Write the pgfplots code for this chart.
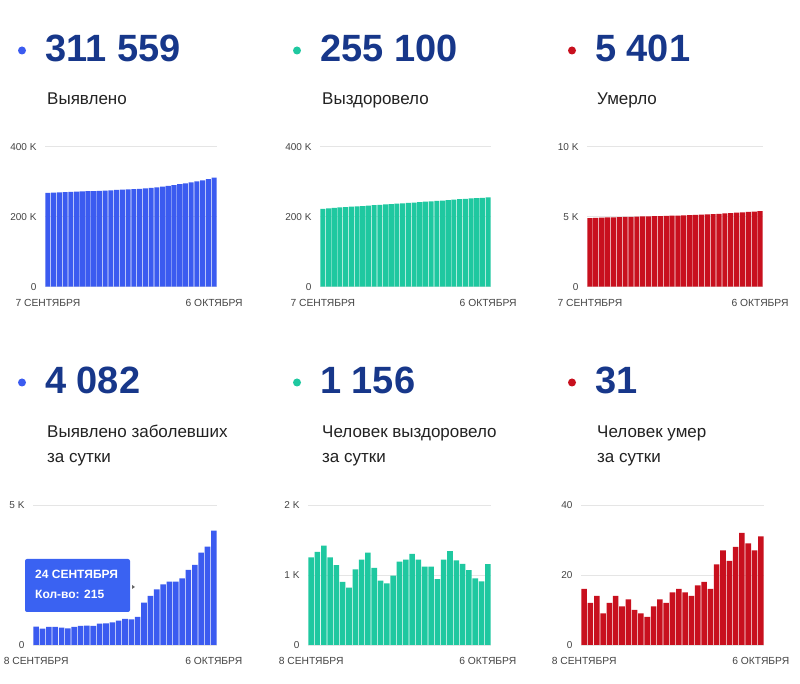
\documentclass[border=0pt]{standalone}
\usepackage{pgfplots}
\pgfplotsset{compat=1.18}
\usepackage{fontspec}
\setmainfont{Liberation Sans}
\definecolor{cblue}{HTML}{3B5BF0}
\definecolor{ctip}{HTML}{3A62F2}
\definecolor{cteal}{HTML}{1FC8A0}
\definecolor{cred}{HTML}{C8101E}
\definecolor{cnavy}{HTML}{17378A}
\definecolor{ctext}{HTML}{222222}
\definecolor{ctick}{HTML}{444444}
\pgfplotsset{
  panel/.style={
    scale only axis, ybar, bar width=0.88, height=140pt,
    ymin=0, axis line style={draw=none}, major tick length=0pt,
    ymajorgrids, major grid style={black!10, line width=0.6pt},
    scaled y ticks=false,
    /pgf/number format/assume math mode=true,
    tick label style={font=\fontsize{10}{11}\selectfont, text=ctick},
    xticklabel style={yshift=-9pt, font=\fontsize{10.3}{11}\selectfont},
    yticklabel style={xshift=-5pt},
    clip=false,
  },
  top/.style={panel, xmin=-0.5, xmax=29.5, xtick={0,29}, xticklabels={7 СЕНТЯБРЯ, 6 ОКТЯБРЯ}},
  bot/.style={panel, xmin=-0.5, xmax=28.5, xtick={0,28}, xticklabels={8 СЕНТЯБРЯ, 6 ОКТЯБРЯ}},
}
\begin{document}
\begin{tikzpicture}[x=1pt,y=1pt]
\useasboundingbox (0,0) rectangle (800,684);
\fill[white] (0,0) rectangle (800,684);

% ---------- headers ----------
\newcommand\hdr[5]{%
  \fill[#1] (#2-23,#3+11.5) circle (4);
  \node[anchor=base west, inner sep=0, text=cnavy, font=\fontsize{38}{40}\selectfont\bfseries] at (#2,#3) {#4};
  \node[anchor=base west, inner sep=0, text=ctext, font=\fontsize{17}{24}\selectfont, align=left] at (#2+2,#3-43) {#5};
}
\hdr{cblue}{45}{622}{311 559}{Выявлено}
\hdr{cteal}{320}{622}{255 100}{Выздоровело}
\hdr{cred}{595}{622}{5 401}{Умерло}
\fill[cblue] (22,301.5) circle (4);
\fill[cteal] (297,301.5) circle (4);
\fill[cred] (572,301.5) circle (4);
\node[anchor=base west, inner sep=0, text=cnavy, font=\fontsize{38}{40}\selectfont\bfseries] at (45,290) {4 082};
\node[anchor=base west, inner sep=0, text=cnavy, font=\fontsize{38}{40}\selectfont\bfseries] at (320,290) {1 156};
\node[anchor=base west, inner sep=0, text=cnavy, font=\fontsize{38}{40}\selectfont\bfseries] at (595,290) {31};
\node[anchor=base west, inner sep=0, text=ctext, font=\fontsize{17}{24}\selectfont] at (47,246) {Выявлено заболевших};
\node[anchor=base west, inner sep=0, text=ctext, font=\fontsize{17}{24}\selectfont] at (47,221) {за сутки};
\node[anchor=base west, inner sep=0, text=ctext, font=\fontsize{17}{24}\selectfont] at (322,246) {Человек выздоровело};
\node[anchor=base west, inner sep=0, text=ctext, font=\fontsize{17}{24}\selectfont] at (322,221) {за сутки};
\node[anchor=base west, inner sep=0, text=ctext, font=\fontsize{17}{24}\selectfont] at (597,246) {Человек умер};
\node[anchor=base west, inner sep=0, text=ctext, font=\fontsize{17}{24}\selectfont] at (597,221) {за сутки};

% ---------- top row: cumulative ----------
\begin{axis}[top, at={(45pt,397.3pt)}, anchor=south west, width=172pt,
  ymax=400000, ytick={0,200000,400000}, yticklabels={0,200 K,400 K}]
\addplot[fill=cblue, draw=none] coordinates {
(0,268319)(1,268974)(2,269557)(3,270200)(4,270843)(5,271462)(6,272057)(7,272700)(8,273379)(9,274069)
(10,274748)(11,275510)(12,276284)(13,277094)(14,277963)(15,278892)(16,279809)(17,280809)(18,282321)(19,284071)
(20,286059)(21,288226)(22,290488)(23,292750)(24,295131)(25,297810)(26,300667)(27,303965)(28,307477)(29,311559)};
\end{axis}

\begin{axis}[top, at={(320pt,397.3pt)}, anchor=south west, width=171pt,
  ymax=400000, ytick={0,200000,400000}, yticklabels={0,200 K,400 K}]
\addplot[fill=cteal, draw=none] coordinates {
(0,222354)(1,223604)(2,224934)(3,226354)(4,227604)(5,228744)(6,229644)(7,230464)(8,231544)(9,232764)
(10,234084)(11,235184)(12,236104)(13,236984)(14,237974)(15,239164)(16,240384)(17,241684)(18,242904)(19,244024)
(20,245144)(21,246084)(22,247304)(23,248644)(24,249854)(25,251014)(26,252084)(27,253034)(28,253944)(29,255100)};
\end{axis}

\begin{axis}[top, at={(587pt,397.3pt)}, anchor=south west, width=176pt,
  ymax=10000, ytick={0,5000,10000}, yticklabels={0,5 K,10 K}]
\addplot[fill=cred, draw=none] coordinates {
(0,4905)(1,4921)(2,4933)(3,4947)(4,4956)(5,4968)(6,4982)(7,4993)(8,5006)(9,5016)
(10,5025)(11,5033)(12,5044)(13,5057)(14,5069)(15,5084)(16,5100)(17,5115)(18,5129)(19,5146)
(20,5164)(21,5180)(22,5203)(23,5230)(24,5254)(25,5282)(26,5314)(27,5343)(28,5370)(29,5401)};
\end{axis}

% ---------- bottom row: daily ----------
\begin{axis}[bot, at={(33pt,39pt)}, anchor=south west, width=184pt,
  ymax=5000, ytick={0,5000}, yticklabels={0,5 K}]
\addplot[fill=cblue, draw=none] coordinates {
(0,655)(1,583)(2,643)(3,643)(4,619)(5,595)(6,643)(7,679)(8,690)(9,679)
(10,762)(11,774)(12,810)(13,869)(14,929)(15,917)(16,1000)(17,1512)(18,1750)(19,1988)
(20,2167)(21,2262)(22,2262)(23,2381)(24,2679)(25,2857)(26,3298)(27,3512)(28,4082)};
\end{axis}

\begin{axis}[bot, at={(308pt,39pt)}, anchor=south west, width=183pt,
  ymax=2000, ytick={0,1000,2000}, yticklabels={0,1 K,2 K}]
\addplot[fill=cteal, draw=none] coordinates {
(0,1250)(1,1330)(2,1420)(3,1250)(4,1140)(5,900)(6,820)(7,1080)(8,1220)(9,1320)
(10,1100)(11,920)(12,880)(13,990)(14,1190)(15,1220)(16,1300)(17,1220)(18,1120)(19,1120)
(20,940)(21,1220)(22,1340)(23,1210)(24,1160)(25,1070)(26,950)(27,910)(28,1156)};
\end{axis}

\begin{axis}[bot, at={(581pt,39pt)}, anchor=south west, width=183pt,
  ymax=40, ytick={0,20,40}, yticklabels={0,20,40}]
\addplot[fill=cred, draw=none] coordinates {
(0,16)(1,12)(2,14)(3,9)(4,12)(5,14)(6,11)(7,13)(8,10)(9,9)
(10,8)(11,11)(12,13)(13,12)(14,15)(15,16)(16,15)(17,14)(18,17)(19,18)
(20,16)(21,23)(22,27)(23,24)(24,28)(25,32)(26,29)(27,27)(28,31)};
\end{axis}

% ---------- tooltip ----------
\fill[ctip, rounded corners=2pt] (25,72) rectangle (130,125);
\node[anchor=base west, inner sep=0, text=white, font=\fontsize{12}{13}\selectfont\bfseries] at (35,105) {24 СЕНТЯБРЯ};
\node[anchor=base west, inner sep=0, text=white, font=\fontsize{12}{13}\selectfont\bfseries] at (35,85) {Кол-во: 215};
\fill[black!60] (132,99) -- (135,97) -- (132,95) -- cycle;
\end{tikzpicture}
\end{document}
